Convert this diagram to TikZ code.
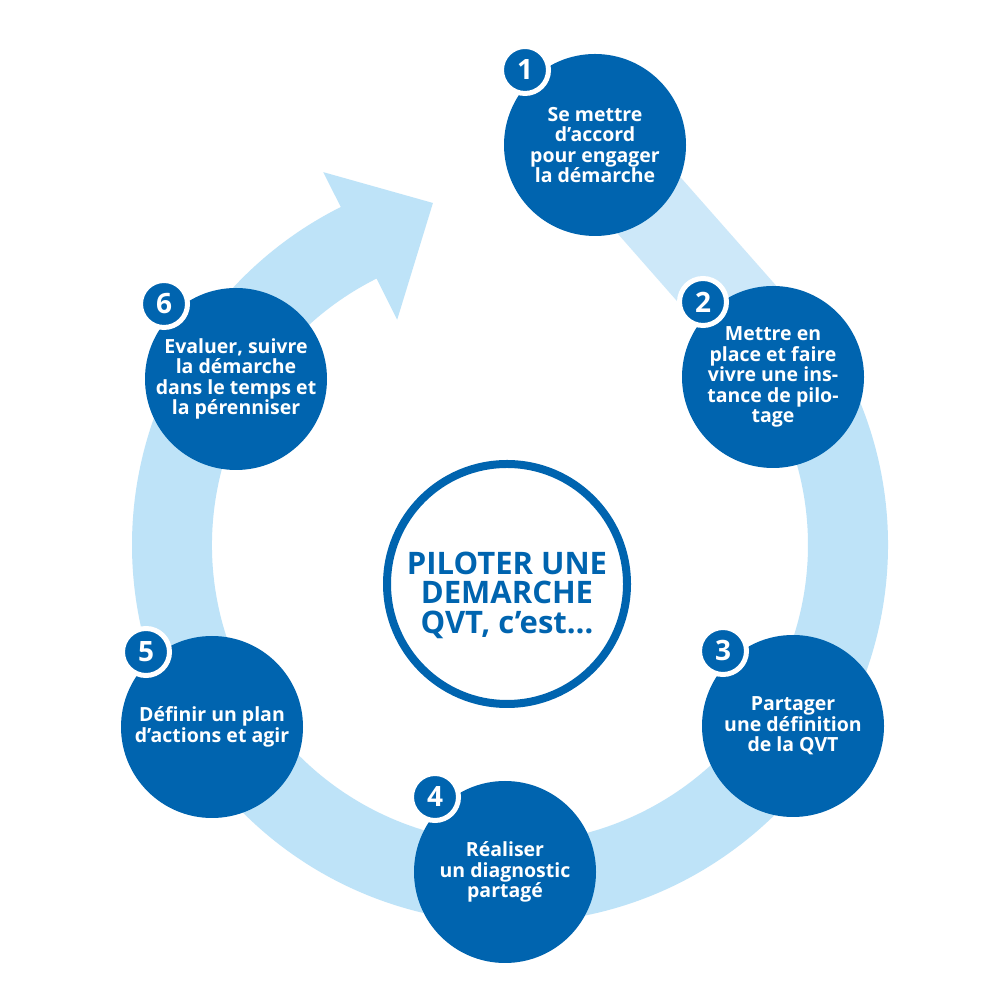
\documentclass[tikz,border=0pt]{standalone}
\usepackage{fontspec}
\setmainfont{Open Sans}
\definecolor{dblue}{HTML}{0064AF}
\definecolor{lring}{HTML}{BEE3F8}
\definecolor{lband}{HTML}{CDE8F9}
\begin{document}
\begin{tikzpicture}[x=1pt,y=1pt,
  stepcirc/.style={circle, fill=dblue, minimum size=182pt, inner sep=0pt, text=white,
    align=center, font=\fontsize{19.5}{20.5}\selectfont\bfseries},
  badge/.style={circle, fill=dblue, draw=white, line width=5pt, minimum size=47pt, inner sep=0pt,
    text=white, font=\fontsize{28}{28}\selectfont\bfseries},
  hub/.style={circle, draw=dblue, line width=8pt, fill=white, minimum size=240pt, inner sep=0pt},
  hubtext/.style={inner sep=0pt, text=dblue, align=center, font=\fontsize{31}{29.5}\selectfont\bfseries}]
\useasboundingbox (0,0) rectangle (1000,1000);
\fill[white] (0,0) rectangle (1000,1000);
% straight band between step 1 and step 2
\fill[lband] (560,832) -- (749,617) -- (802,685) -- (637,872) -- cycle;
% ring with arrow
\coordinate (C) at (510,455);
\fill[lring] ([shift={(C)}]38:378) arc[start angle=38, end angle=-243.4, radius=378pt]
  -- ([shift={(C)}]116.6:417) -- ([shift={(C)}]102.7:350.6) -- ([shift={(C)}]116.6:252)
  -- ([shift={(C)}]116.6:298) arc[start angle=116.6, end angle=398, radius=298pt] -- cycle;
% steps
\node[stepcirc] (s1) at (595,855) {Se mettre\\d’accord\\pour engager\\la démarche};
\node[stepcirc] (s2) at (773,623) {Mettre en\\place et faire\\vivre une ins-\\tance de pilo-\\tage};
\node[stepcirc] (s3) at (793,274) {Partager\\une définition\\de la QVT};
\node[stepcirc] (s4) at (505,128) {Réaliser\\un diagnostic\\partagé};
\node[stepcirc] (s5) at (212,273) {Définir un plan\\d’actions et agir};
\node[stepcirc] (s6) at (236,621) {Evaluer, suivre\\la démarche\\dans le temps et\\la pérenniser};
% badges
\node[badge] (b1) at ([shift={(-70,75)}]s1.center) {1};
\node[badge] (b2) at ([shift={(-70,75)}]s2.center) {2};
\node[badge] (b3) at ([shift={(-70,75)}]s3.center) {3};
\node[badge] (b4) at ([shift={(-70,75)}]s4.center) {4};
\node[badge] (b5) at ([shift={(-66,75)}]s5.center) {5};
\node[badge] (b6) at ([shift={(-72,75)}]s6.center) {6};
% hub
\node[hub] (hub) at (507,416) {};
\node[hubtext] (hubt) at ([yshift=-11pt]hub.center) {PILOTER UNE\\DEMARCHE\\QVT, c’est…};
\end{tikzpicture}
\end{document}
